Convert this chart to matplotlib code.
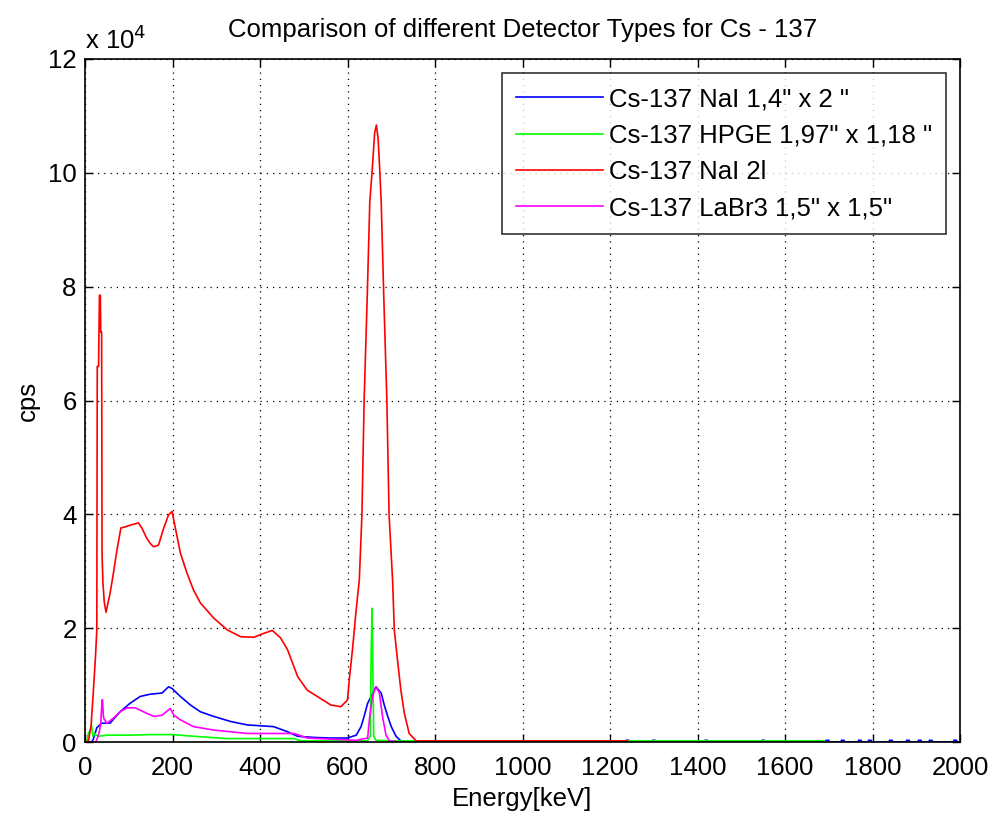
import matplotlib
matplotlib.use("Agg")
import matplotlib.pyplot as plt
from matplotlib.ticker import FuncFormatter, MultipleLocator
import numpy as np

# spectra, counts in units of 1e4 cps
NAI_SMALL_E = [0, 15, 19, 27, 38, 57, 80, 103, 126, 149, 176, 191, 199, 218, 241,
               264, 294, 333, 371, 431, 463, 486, 524, 560, 600, 620, 631, 638, 646,
               654, 665, 677, 684, 692, 700, 711, 722, 760]
NAI_SMALL_C = [0, 0, 0.05, 0.25, 0.33, 0.33, 0.53, 0.68, 0.8, 0.84, 0.86, 0.97, 0.94,
               0.8, 0.65, 0.53, 0.45, 0.36, 0.3, 0.27, 0.18, 0.1, 0.08, 0.07, 0.07,
               0.12, 0.27, 0.45, 0.68, 0.8, 0.97, 0.86, 0.65, 0.45, 0.27, 0.1, 0.02, 0.0]
# sparse non-zero channels in the blue tail
NAI_SMALL_BLIPS = [1240, 1300, 1420, 1550, 1697, 1732, 1771, 1794, 1842, 1881, 1908,
                   1933, 1989]

HPGE_E = [0, 5, 8, 12, 15, 18, 22, 30, 50, 100, 150, 200, 250, 325, 478, 493, 600,
          645, 652, 654, 656, 658, 660, 665, 700, 1000, 1400, 1690, 1692]
HPGE_C = [0, 0.05, 0.16, 0.2, 0.3, 0.1, 0.15, 0.1, 0.12, 0.12, 0.13, 0.13, 0.1, 0.06,
          0.06, 0.02, 0.02, 0.02, 0.1, 1.5, 2.35, 1.2, 0.1, 0.03, 0.02, 0.02, 0.02,
          0.02, 0.0]

NAI_2L_E = [0, 8, 14, 19, 24, 27, 28, 31, 33, 35, 36, 38, 39, 41, 44, 48, 57, 65, 73,
            82, 92, 103, 113, 122, 130, 141, 150, 157, 168, 180, 191, 199, 206, 218,
            233, 248, 264, 294, 325, 356, 386, 409, 428, 447, 463, 486, 508, 531, 562,
            585, 600, 604, 612, 619, 627, 633, 638, 645, 651, 656, 662, 666, 670, 674,
            677, 683, 690, 695, 703, 707, 715, 722, 730, 741, 757, 1000, 1240]
NAI_2L_C = [0, 0.02, 0.3, 0.88, 1.5, 1.97, 6.6, 6.6, 7.85, 7.85, 7.2, 7.2, 3.3, 2.8,
            2.46, 2.28, 2.6, 2.97, 3.37, 3.76, 3.78, 3.81, 3.83, 3.85, 3.76, 3.58, 3.48,
            3.43, 3.46, 3.76, 3.99, 4.05, 3.78, 3.32, 2.97, 2.67, 2.44, 2.18, 1.97, 1.85,
            1.84, 1.91, 1.96, 1.83, 1.62, 1.15, 0.91, 0.8, 0.65, 0.62, 0.74, 1.09, 1.67,
            2.26, 2.85, 4.0, 6.0, 7.8, 9.5, 10.0, 10.7, 10.84, 10.6, 10.0, 9.5, 7.8, 6.0,
            4.0, 2.85, 1.97, 1.39, 0.91, 0.5, 0.15, 0.02, 0.02, 0.02]

LABR_E = [0, 25, 32, 36, 39, 40, 42, 44, 50, 65, 80, 96, 115, 134, 157, 176, 195, 203,
          218, 248, 294, 371, 478, 508, 560, 620, 646, 650, 657, 665, 673, 680, 688,
          696, 720]
LABR_C = [0, 0, 0.15, 0.33, 0.74, 0.74, 0.45, 0.4, 0.33, 0.42, 0.53, 0.6, 0.6, 0.53,
          0.45, 0.47, 0.59, 0.47, 0.39, 0.27, 0.21, 0.15, 0.15, 0.07, 0.05, 0.03, 0.07,
          0.39, 0.8, 0.97, 0.86, 0.45, 0.12, 0.02, 0.0]

LABELS = ['Cs-137 NaI 1,4" x 2 "', 'Cs-137 HPGE 1,97" x 1,18 "',
          'Cs-137 NaI 2l', 'Cs-137 LaBr3 1,5" x 1,5"']
COLORS = ["#0000ff", "#00ff00", "#ff0000", "#ff00ff"]

FONT = "Liberation Sans"
FS = 18.5


def blue_with_tail():
    e = list(NAI_SMALL_E)
    c = list(NAI_SMALL_C)
    for b in NAI_SMALL_BLIPS:
        e += [b - 4, b - 3, b + 3, b + 4]
        c += [0, 0.03, 0.03, 0]
    e.append(2000)
    c.append(0)
    return np.array(e), np.array(c) * 1e4


def main():
    plt.rcParams["font.family"] = FONT
    fig = plt.figure(figsize=(9.91, 8.19), dpi=100)
    ax = fig.add_axes([85 / 991, 1 - 742 / 819, 875 / 991, 683 / 819])

    series = [
        blue_with_tail(),
        (np.array(HPGE_E), np.array(HPGE_C) * 1e4),
        (np.array(NAI_2L_E), np.array(NAI_2L_C) * 1e4),
        (np.array(LABR_E), np.array(LABR_C) * 1e4),
    ]
    for (e, c), label, color in zip(series, LABELS, COLORS):
        ax.plot(e, c, color=color, lw=1.2, label=label)

    ax.set_xlim(0, 2000)
    ax.set_ylim(0, 12e4)
    ax.xaxis.set_major_locator(MultipleLocator(200))
    ax.yaxis.set_major_locator(MultipleLocator(2e4))
    ax.yaxis.set_major_formatter(FuncFormatter(lambda v, p: f"{v / 1e4:g}"))
    ax.grid(True, color="black", linestyle=(0, (1, 4)), linewidth=0.9)
    ax.tick_params(direction="in", top=True, right=True, length=6, width=1,
                   labelsize=FS, pad=6)
    ax.tick_params(axis="x", pad=10)
    for sp in ax.spines.values():
        sp.set_linewidth(1.2)

    ax.set_title("Comparison of different Detector Types for Cs - 137",
                 fontsize=FS, pad=16)
    ax.set_xlabel("Energy[keV]", fontsize=FS, labelpad=5)
    ax.set_ylabel("cps", fontsize=FS, labelpad=6)
    ax.text(0, 1.008, "x 10$^4$", transform=ax.transAxes, fontsize=FS,
            ha="left", va="bottom")

    leg = ax.legend(loc="upper right", fontsize=FS, frameon=True, fancybox=False,
                    borderaxespad=0.55, handlelength=3.4, handletextpad=0.2,
                    labelspacing=0.48, borderpad=0.55)
    leg.get_frame().set_edgecolor("black")
    leg.get_frame().set_linewidth(1.2)

    fig.savefig("out.png", dpi=100)
    plt.close(fig)


if __name__ == "__main__":
    main()
